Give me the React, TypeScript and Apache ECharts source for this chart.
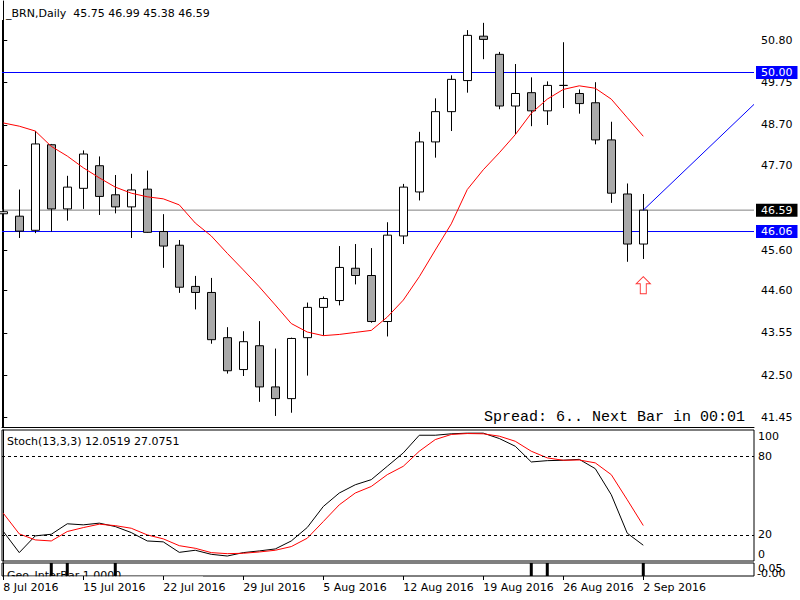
import React, { useEffect, useRef } from 'react';
import * as echarts from 'echarts';

// Trading days shown (one candle each)
const dates = [
  '8 Jul 2016', '11 Jul 2016', '12 Jul 2016', '13 Jul 2016', '14 Jul 2016',
  '15 Jul 2016', '18 Jul 2016', '19 Jul 2016', '20 Jul 2016', '21 Jul 2016',
  '22 Jul 2016', '25 Jul 2016', '26 Jul 2016', '27 Jul 2016', '28 Jul 2016',
  '29 Jul 2016', '1 Aug 2016', '2 Aug 2016', '3 Aug 2016', '4 Aug 2016',
  '5 Aug 2016', '8 Aug 2016', '9 Aug 2016', '10 Aug 2016', '11 Aug 2016',
  '12 Aug 2016', '15 Aug 2016', '16 Aug 2016', '17 Aug 2016', '18 Aug 2016',
  '19 Aug 2016', '22 Aug 2016', '23 Aug 2016', '24 Aug 2016', '25 Aug 2016',
  '26 Aug 2016', '29 Aug 2016', '30 Aug 2016', '31 Aug 2016', '1 Sep 2016',
  '2 Sep 2016',
];

const opens = [46.50, 46.44, 46.09, 48.21, 46.62, 47.13, 47.69, 46.97, 46.67, 47.11,
  46.06, 45.72, 44.70, 44.55, 43.43, 42.64, 43.23, 42.21, 41.92, 43.43,
  44.18, 44.35, 45.15, 44.97, 43.83, 45.95, 47.04, 48.28, 49.03, 49.80,
  50.90, 50.45, 49.17, 49.50, 49.05, 49.68, 49.48, 49.25, 48.33, 46.99, 45.75];
const highs = [47.22, 47.10, 48.55, 48.23, 47.44, 48.07, 47.92, 47.46, 47.49, 47.57,
  46.49, 45.85, 44.96, 44.91, 43.69, 43.59, 43.84, 43.16, 43.43, 44.30,
  44.45, 45.70, 45.75, 45.65, 46.29, 47.24, 48.53, 49.36, 49.93, 51.05,
  51.23, 50.51, 50.21, 49.88, 49.78, 50.75, 49.58, 49.76, 48.78, 47.25, 46.99];
const lows = [46.14, 45.90, 46.02, 46.06, 46.33, 46.62, 46.47, 46.51, 45.90, 46.03,
  45.16, 44.54, 44.13, 43.28, 42.54, 42.48, 41.84, 41.49, 41.57, 42.49,
  43.48, 44.23, 44.75, 43.80, 43.46, 45.75, 46.83, 47.89, 48.55, 49.50,
  50.33, 49.09, 48.47, 48.67, 48.70, 49.12, 48.98, 48.22, 46.77, 45.31, 45.38];
const closes = [46.55, 46.07, 48.23, 46.62, 47.16, 47.98, 46.93, 46.67, 47.09, 46.04,
  45.70, 44.68, 44.55, 43.38, 42.61, 43.33, 42.21, 41.92, 43.41, 44.18,
  44.40, 45.17, 44.97, 43.83, 45.97, 47.16, 48.28, 49.03, 49.83, 50.92,
  50.82, 49.17, 49.48, 49.05, 49.68, 49.68, 49.23, 48.33, 47.01, 45.75, 46.59];

// Red moving average, read at each candle
const maValues = [48.75, 48.67, 48.55, 48.17, 47.93, 47.64, 47.39, 47.16, 47.01, 46.92,
  46.87, 46.72, 46.27, 45.95, 45.52, 45.11, 44.69, 44.24, 43.78, 43.57,
  43.48, 43.51, 43.56, 43.61, 43.94, 44.36, 44.94, 45.60, 46.25, 47.10,
  47.59, 48.01, 48.46, 48.99, 49.34, 49.58, 49.67, 49.61, 49.34, 48.88, 48.42];

// Stochastic (13,3,3)
const stochMain = [22.6, 6.4, 19.2, 20.4, 28.4, 27.6, 28.9, 26.3, 21.7, 15.3,
  14.6, 6.6, 8.2, 5.1, 3.8, 6.4, 7.7, 9.2, 15.3, 25.6,
  41.6, 51.9, 58.2, 62.1, 72.3, 82.5, 96.0, 96.0, 97.1, 97.6,
  97.6, 93.5, 87.6, 75.6, 76.6, 76.9, 77.6, 70.5, 50.6, 21.2, 12.05];
const stochSignal = [36.5, 20.7, 16.1, 15.3, 22.5, 25.5, 28.1, 27.0, 25.0, 19.9,
  16.9, 11.7, 9.7, 6.4, 5.6, 5.9, 6.9, 8.2, 11.0, 17.4,
  30.1, 42.9, 51.9, 56.9, 65.9, 72.3, 83.8, 92.7, 96.6, 97.3,
  97.1, 95.3, 91.4, 83.8, 78.7, 76.9, 77.1, 74.9, 65.9, 46.7, 27.08];

// Geo_InterBar histogram marks (bar index, value)
const geoBars = [[3, 1], [4, 1], [7, 1], [33, 1], [34, 1], [40, 1]];

// Horizontal price lines: value, line colour, box colour
const hLines = [
  { value: 46.59, line: '#808080', box: '#000000' },
  { value: 50.0, line: '#0000ff', box: '#0000ff' },
  { value: 46.06, line: '#0000ff', box: '#0000ff' },
];
// Trend line (bar index, price)
const trendLine = [[40, 46.59], [46.92, 49.21]];
// Up arrow signal (bar index, price)
const arrowSignal = [[40, 44.73]];

const priceTicks = [41.45, 42.5, 43.55, 44.6, 45.6, 47.7, 48.7, 49.75, 50.8];
const stochTicks = [100, 80, 20, 0];
const stochLevels = [80, 20];
const dateTickIdx = [0, 5, 10, 15, 20, 25, 30, 35, 40];

const FONT = 'DejaVu Sans';

export default function App() {
  const ref = useRef<HTMLDivElement>(null);
  useEffect(() => {
    const chart = echarts.init(ref.current!, null, { renderer: 'svg' });
    const xMin = -0.08;
    const xMax = 46.92;
    const ohlc = opens.map((o, i) => [i, o, closes[i], lows[i], highs[i]]);
    const xBase = (gridIndex: number) => ({
      type: 'value', gridIndex, min: xMin, max: xMax,
      axisLine: { show: false }, axisTick: { show: false },
      axisLabel: { show: false }, splitLine: { show: false },
    });
    const hLineSeries = hLines.map((h) => ({
      type: 'line', xAxisIndex: 0, yAxisIndex: 0, symbol: 'none', silent: true,
      data: [[xMin, h.value], [xMax, h.value]],
      lineStyle: { color: h.line, width: 1 }, itemStyle: { color: h.line },
      endLabel: {
        show: true, distance: 2, formatter: h.value.toFixed(2),
        backgroundColor: h.box, color: '#ffffff', fontFamily: FONT, fontSize: 11, lineHeight: 13,
        padding: [0, 5, 0, 5],
      },
      z: 3,
    }));
    const option: any = {
      animation: false,
      backgroundColor: '#ffffff',
      grid: [
        { left: 2, top: 1, width: 752, height: 426, show: false },
        { left: 2, top: 430, width: 752, height: 131, show: true, borderColor: '#000', borderWidth: 1, backgroundColor: 'transparent' },
        { left: 2, top: 563, width: 752, height: 13, show: true, borderColor: '#000', borderWidth: 1, backgroundColor: 'transparent' },
      ],
      xAxis: [
        { ...xBase(0), axisLine: { show: true, onZero: false, lineStyle: { color: '#000', width: 1 } } },
        xBase(1),
        {
          ...xBase(2),
          z: 10,
          axisTick: { show: true, customValues: dateTickIdx, length: 4, lineStyle: { color: '#000', width: 1 } },
          axisLabel: {
            show: true, customValues: dateTickIdx, formatter: (v: number) => dates[Math.round(v)] ?? '',
            align: 'left', margin: 6, color: '#000', fontFamily: FONT, fontSize: 11,
          },
        },
      ],
      yAxis: [
        {
          type: 'value', gridIndex: 0, position: 'right', min: 41.2166, max: 51.7716,
          axisLine: { show: true, lineStyle: { color: '#000', width: 1 } },
          axisTick: { show: true, customValues: priceTicks, length: 4, lineStyle: { color: '#000' } },
          axisLabel: { customValues: priceTicks, formatter: (v: number) => v.toFixed(2), margin: 7, color: '#000', fontFamily: FONT, fontSize: 11 },
          splitLine: { show: false },
        },
        {
          type: 'value', gridIndex: 1, position: 'right', min: 0, max: 100,
          axisLine: { show: true, lineStyle: { color: '#000', width: 1 } },
          axisTick: { show: false },
          axisLabel: {
            customValues: stochTicks, margin: 4, color: '#000', fontFamily: FONT, fontSize: 11,
            formatter: (v: number) => (v === 100 ? '{t|100}' : v === 0 ? '{b|0}' : String(v)),
            rich: {
              t: { padding: [13, 0, 0, 0], fontFamily: FONT, fontSize: 11, color: '#000' },
              b: { padding: [0, 0, 13, 0], fontFamily: FONT, fontSize: 11, color: '#000' },
            },
          },
          splitLine: { show: false },
        },
        {
          type: 'value', gridIndex: 2, position: 'right', min: 0, max: 1,
          axisLine: { show: true, lineStyle: { color: '#000', width: 1 } },
          axisTick: { show: false }, axisLabel: { show: false }, splitLine: { show: false },
        },
      ],
      series: [
        ...hLineSeries,
        {
          type: 'candlestick', xAxisIndex: 0, yAxisIndex: 0,
          data: ohlc, encode: { x: 0, y: [1, 2, 3, 4] },
          barWidth: 9, z: 4,
          itemStyle: {
            color: '#ffffff', color0: '#a9a9a9',
            borderColor: '#000000', borderColor0: '#000000', borderColorDoji: '#000000', borderWidth: 1,
          },
        },
        {
          type: 'line', xAxisIndex: 0, yAxisIndex: 0, symbol: 'none', z: 5,
          data: maValues.map((v, i) => [i, v]),
          lineStyle: { color: '#ff0000', width: 1 }, itemStyle: { color: '#ff0000' },
        },
        {
          type: 'line', xAxisIndex: 0, yAxisIndex: 0, symbol: 'none', z: 5,
          data: trendLine,
          lineStyle: { color: '#0000ff', width: 1 }, itemStyle: { color: '#0000ff' },
        },
        {
          type: 'scatter', xAxisIndex: 0, yAxisIndex: 0, z: 5,
          data: arrowSignal,
          symbol: 'path://M7,0 L14,7 L10,7 L10,17 L4,17 L4,7 L0,7 Z',
          symbolSize: [14, 17],
          itemStyle: { color: '#ffffff', borderColor: '#ff0000', borderWidth: 1 },
        },
        {
          type: 'line', xAxisIndex: 1, yAxisIndex: 1, symbol: 'none',
          data: stochMain.map((v, i) => [i, v]),
          lineStyle: { color: '#000000', width: 1 }, itemStyle: { color: '#000000' },
          markLine: {
            silent: true, symbol: 'none', animation: false,
            lineStyle: { color: '#000', width: 1, type: [3, 3] },
            label: { show: false },
            data: stochLevels.map((v) => ({ yAxis: v })),
          },
        },
        {
          type: 'line', xAxisIndex: 1, yAxisIndex: 1, symbol: 'none',
          data: stochSignal.map((v, i) => [i, v]),
          lineStyle: { color: '#ff0000', width: 1 }, itemStyle: { color: '#ff0000' },
        },
        {
          type: 'bar', xAxisIndex: 2, yAxisIndex: 2,
          data: geoBars, barWidth: 3, itemStyle: { color: '#000000' },
        },
      ],
      graphic: [
        { type: 'line', z: 1, shape: { x1: 2.5, y1: 20, x2: 2.5, y2: 427 }, style: { stroke: '#000', lineWidth: 1 } },
        { type: 'text', x: 6, y: 13, z: 20, style: { text: '_BRN,Daily  45.75 46.99 45.38 46.59', fill: '#000', font: `11px "${FONT}"`, verticalAlign: 'middle' } },
        { type: 'text', x: 7, y: 441, z: 20, style: { text: 'Stoch(13,3,3) 12.0519 27.0751', fill: '#000', font: `11px "${FONT}"`, verticalAlign: 'middle' } },
        { type: 'text', x: 745, y: 417, z: 20, style: { text: 'Spread: 6.. Next Bar in 00:01', fill: '#000', font: '15px "Liberation Mono"', align: 'right', verticalAlign: 'middle' } },
        { type: 'text', x: 7, y: 575, z: 1, style: { text: 'Geo_InterBar 1.0000', fill: '#000', font: `11px "${FONT}"`, verticalAlign: 'middle' } },
        { type: 'rect', z: 2, shape: { x: 3, y: 576.5, width: 200, height: 6 }, style: { fill: '#ffffff' } },
        { type: 'text', x: 758, y: 568, z: 20, style: { text: '0.05', fill: '#000', font: `11px "${FONT}"`, verticalAlign: 'middle' } },
        { type: 'text', x: 757, y: 573, z: 20, style: { text: '-0.00', fill: '#000', font: `11px "${FONT}"`, verticalAlign: 'middle' } },
      ],
    };
    chart.setOption(option);
    return () => chart.dispose();
  }, []);
  return <div ref={ref} style={{ position: 'fixed', left: 0, top: 0, width: 800, height: 600, background: '#fff' }} />;
}
